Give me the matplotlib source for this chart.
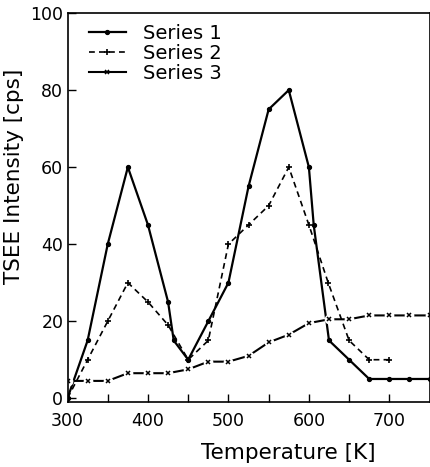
import matplotlib
matplotlib.use("Agg")
import matplotlib.pyplot as plt
from matplotlib.lines import Line2D

plt.rcParams['font.family'] = ['DejaVu Sans']

# data
t1 = [300, 325, 350, 375, 400, 425, 432, 450, 475, 500, 525, 550, 575, 600, 606, 625, 650, 675, 700, 725, 750]
s1 = [0, 15, 40, 60, 45, 25, 15, 10, 20, 30, 55, 75, 80, 60, 45, 15, 10, 5, 5, 5, 5]

t2 = [300, 325, 350, 375, 400, 425, 450, 475, 500, 525, 550, 575, 600, 624, 650, 675, 700]
s2 = [0, 10, 20, 30, 25, 19, 10, 15, 40, 45, 50, 60, 45, 30, 15, 10, 10]

t3 = [300, 325, 350, 375, 400, 425, 450, 475, 500, 525, 550, 575, 600, 625, 650, 675, 700, 725, 750]
s3 = [4.5, 4.5, 4.5, 6.5, 6.5, 6.5, 7.5, 9.5, 9.5, 11, 14.5, 16.5, 19.5, 20.5, 20.5, 21.5, 21.5, 21.5, 21.5]

labels = ["Series 1", "Series 2", "Series 3"]

fig = plt.figure(figsize=(4.30, 4.67), dpi=100)
ax = fig.add_axes([0.157, 0.139, 0.842, 0.833])

l1, = ax.plot(t1, s1, color="black", lw=1.6, marker="o", ms=2.8)
l2, = ax.plot(t2, s2, color="black", lw=1.2, ls=(0, (3.5, 2.5)), marker="+", ms=5, mew=1.2)
# series 3: solid line broken around each x marker
ax.plot(t3, s3, color="black", lw=1.5, marker="o", ms=6, mfc="white", mec="white", zorder=2)
ax.plot(t3, s3, ls="none", marker="x", ms=3.5, mew=1.1, color="black", zorder=3)
l3 = Line2D([], [], color="black", lw=1.5, marker="x", ms=3.5, mew=1.1)

ax.set_xlim(300, 750)
ax.set_ylim(-1, 100)
ax.set_xticks([300, 400, 500, 600, 700])
ax.set_xticks([350, 450, 550, 650], minor=True)
ax.set_yticks([0, 20, 40, 60, 80, 100])
ax.tick_params(which="both", direction="in", length=6, width=1, labelsize=12.5)
ax.tick_params(axis="x", pad=7)
ax.tick_params(axis="y", pad=3)
for sp in ax.spines.values():
    sp.set_linewidth(1.2)

ax.set_xlabel("Temperature [K]", fontsize=15.5)
ax.set_ylabel("TSEE Intensity [cps]", fontsize=15.5)
ax.xaxis.set_label_coords(0.61, -0.105)
ax.yaxis.set_label_coords(-0.12, 0.58)

ax.legend([l1, l2, l3], labels, loc="upper left", frameon=False, fontsize=14,
          handlelength=1.9, handletextpad=0.9, labelspacing=0.05,
          borderaxespad=0.0, bbox_to_anchor=(0.037, 0.992))

fig.savefig("out.png", dpi=100)
